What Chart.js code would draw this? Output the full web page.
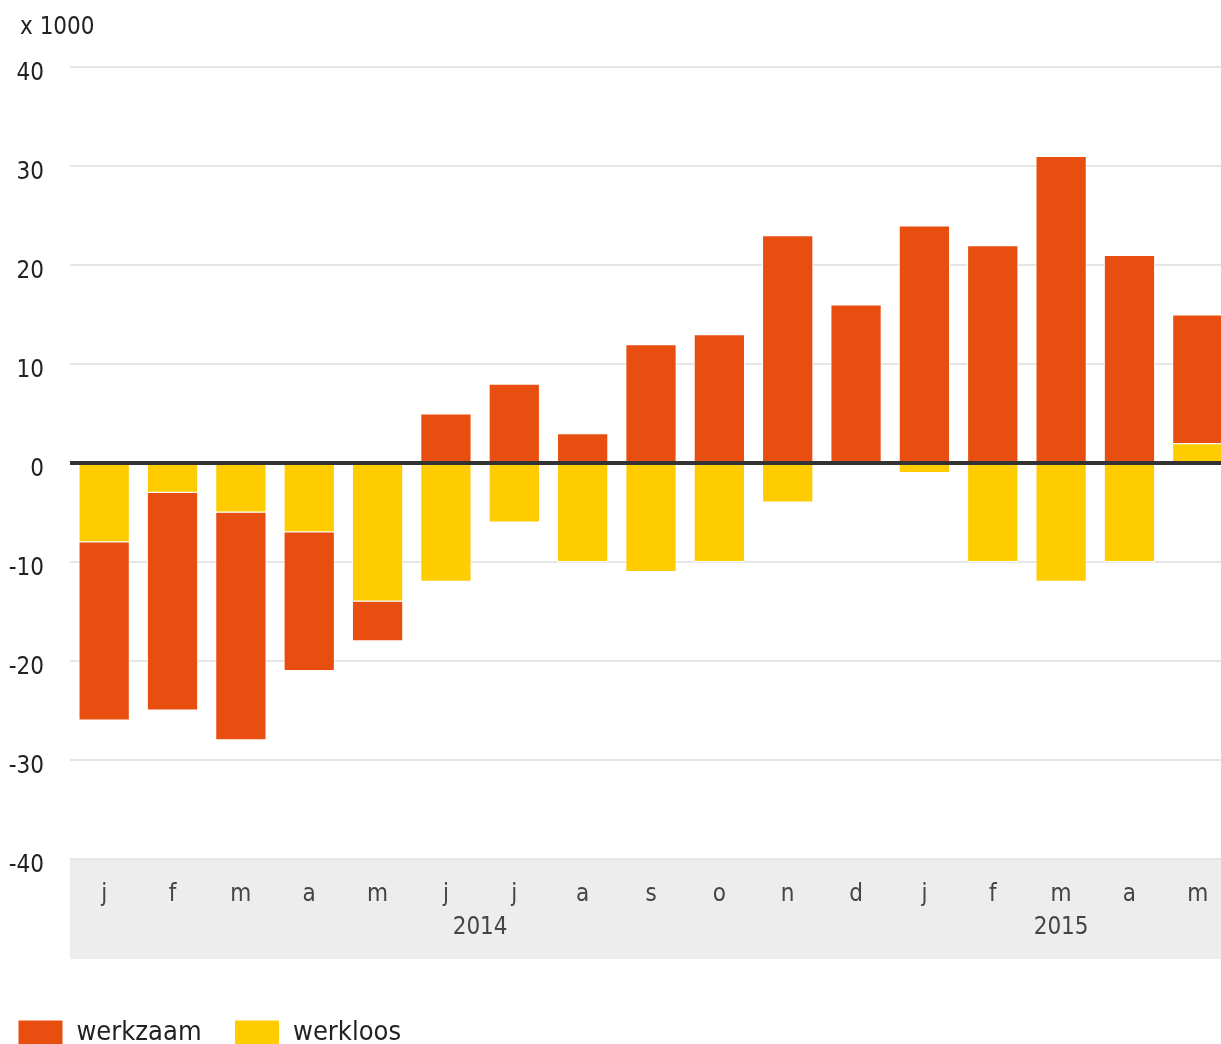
<!DOCTYPE html>
<html>
<head>
<meta charset="utf-8">
<script src="https://cdn.jsdelivr.net/npm/chart.js@4.4.1/dist/chart.umd.min.js"></script>
<style>
  html, body { margin: 0; padding: 0; overflow: hidden; background: #fff; }
  #wrap { position: absolute; left: 0; top: 0; width: 1221px; height: 1044px; overflow: hidden; }
</style>
</head>
<body>
<div id="wrap"><canvas id="canvas" width="1232" height="1056"></canvas></div>
<script>
// maanden (jan 2014 - mei 2015), x 1000
var months = ['j','f','m','a','m','j','j','a','s','o','n','d','j','f','m','a','m'];
var years = ['2014', '2015'];
var yearFirst = [0, 12];
var yearLast = [11, 16];
var werkzaam = [-18, -22, -23, -14, -4, 5, 8, 3, 12, 13, 23, 16, 24, 22, 31, 21, 13];
var werkloos = [-8, -3, -5, -7, -14, -12, -6, -10, -11, -10, -4, 0, -1, -10, -12, -10, 2];
var yTicks = [-40, -30, -20, -10, 0, 10, 20, 30, 40];

var FONT = "'DejaVu Sans Condensed', 'DejaVu Sans', sans-serif";
Chart.defaults.font.family = FONT;

// grijze band onder de x-as, jaartallen, nullijn en "x 1000"
var extras = {
    id: 'extras',
    afterLayout: function(chart) {
        chart.legend.left -= 15; // legenda iets naar links
    },
    beforeDraw: function(chart) {
        var ctx = chart.ctx, area = chart.chartArea;
        ctx.save();
        ctx.fillStyle = '#ededed';
        ctx.fillRect(area.left, area.bottom, chart.width - area.left, 100);
        ctx.fillStyle = '#cfcfcf';
        ctx.fillRect(area.left, area.bottom - 1, chart.width - area.left, 2);
        ctx.fillStyle = '#222';
        ctx.font = '24px ' + FONT;
        ctx.textBaseline = 'middle';
        ctx.textAlign = 'left';
        ctx.fillText('x 1000', 20, 28);
        ctx.restore();
    },
    afterDatasetsDraw: function(chart) {
        var ctx = chart.ctx, area = chart.chartArea;
        var y0 = chart.scales.y.getPixelForValue(0);
        ctx.save();
        ctx.fillStyle = '#333';
        ctx.fillRect(area.left, y0 - 2, chart.width - area.left, 4);
        var x = chart.scales.x;
        ctx.fillStyle = '#444';
        ctx.font = '24px ' + FONT;
        ctx.textAlign = 'center';
        ctx.textBaseline = 'middle';
        for (var i = 0; i < years.length; i++) {
            var cx = (x.getPixelForValue(yearFirst[i]) + x.getPixelForValue(yearLast[i])) / 2;
            ctx.fillText(years[i], cx, area.bottom + 69);
        }
        ctx.restore();
    }
};

var ctx = document.getElementById('canvas').getContext('2d');
var myChart = new Chart(ctx, {
    type: 'bar',
    data: {
        labels: months,
        datasets: [
            {
                label: 'werkloos',
                data: werkloos,
                backgroundColor: '#ffcc00',
                borderColor: '#ffffff',
                borderWidth: 1
            },
            {
                label: 'werkzaam',
                data: werkzaam,
                backgroundColor: '#e84e0f',
                borderColor: '#ffffff',
                borderWidth: 1
            }
        ]
    },
    options: {
        responsive: false,
        animation: false,
        layout: { padding: { top: 67, left: 0, right: 0, bottom: 0 } },
        datasets: { bar: { categoryPercentage: 1, barPercentage: 0.75 } },
        plugins: {
            tooltip: { enabled: false },
            legend: {
                position: 'bottom',
                align: 'start',
                reverse: true,
                labels: {
                    boxWidth: 45,
                    boxHeight: 25,
                    padding: 33,
                    color: '#222',
                    font: { size: 27 }
                }
            }
        },
        scales: {
            x: {
                stacked: true,
                grid: { display: false, drawTicks: false },
                border: { display: false },
                ticks: { color: '#444', font: { size: 24 }, padding: 21, maxRotation: 0, autoSkip: false },
                afterFit: function(scale) { scale.height = 127; }
            },
            y: {
                stacked: true,
                min: -40,
                max: 40,
                afterBuildTicks: function(scale) {
                    scale.ticks = yTicks.map(function(v) { return { value: v }; });
                },
                grid: { color: '#e6e6e6', lineWidth: 2, drawTicks: false },
                border: { display: false },
                ticks: { color: '#222', font: { size: 24 }, padding: 26, labelOffset: 7 },
                afterFit: function(scale) { scale.width = 70; }
            }
        }
    },
    plugins: [extras]
});
</script>
</body>
</html>
